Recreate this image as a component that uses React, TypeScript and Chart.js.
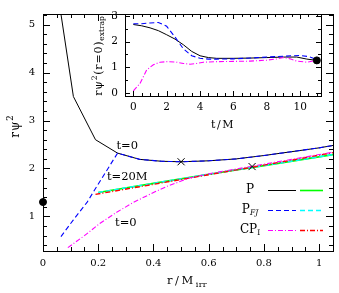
import React, { useEffect, useRef } from 'react';
import { Chart, registerables } from 'chart.js';
Chart.register(...registerables);

const FONT = '"DejaVu Serif", serif';

// ---------- main panel data ----------
const rTicks = [0, 0.2, 0.4, 0.6, 0.8, 1];
const rTickLabels = ['0', '0.2', '0.4', '0.6', '0.8', '1'];
const psiTicks = [1, 2, 3, 4, 5];
const psiTickLabels = ['1', '2', '3', '4', '5'];

// P, t=0 (black solid)
const pT0R = [0.06, 0.11, 0.19, 0.27, 0.35, 0.43, 0.5, 0.6, 0.7, 0.8, 0.9, 1.0, 1.05];
const pT0Psi = [5.41, 3.5, 2.6, 2.32, 2.19, 2.15, 2.14, 2.16, 2.2, 2.27, 2.35, 2.43, 2.48];
// P_FJ, t=0 (blue dashed)
const pfjT0R = [0.065, 0.11, 0.16, 0.207, 0.27, 0.35, 0.43, 0.5, 0.6, 0.7, 0.8, 0.9, 1.0, 1.05];
const pfjT0Psi = [0.58, 0.93, 1.3, 1.74, 2.32, 2.19, 2.15, 2.14, 2.16, 2.2, 2.27, 2.35, 2.43, 2.48];
// CP_I, t=0 (magenta dash-dot)
const cpiT0R = [0.09, 0.15, 0.207, 0.27, 0.33, 0.4, 0.45, 0.53, 0.6, 0.7, 0.8, 0.9, 1.0, 1.05];
const cpiT0Psi = [0.35, 0.6, 0.86, 1.1, 1.3, 1.5, 1.63, 1.8, 1.89, 1.99, 2.09, 2.19, 2.29, 2.34];
// t=20M
const pT20R = [0.2, 0.4, 0.6, 0.8, 1.05];
const pT20Psi = [1.5, 1.69, 1.88, 2.06, 2.29];
const pfjT20R = [0.2, 0.4, 0.6, 0.8, 1.05];
const pfjT20Psi = [1.5, 1.69, 1.88, 2.06, 2.29];
const cpiT20R = [0.19, 0.4, 0.6, 0.8, 1.05];
const cpiT20Psi = [1.46, 1.67, 1.87, 2.07, 2.33];
// markers
const crossR = [0.5, 0.757];
const crossPsi = [2.14, 2.04];
const dotR = [0];
const dotPsi = [1.3];

// annotations
const annoText = ['t=0', 't=20M', 't=0'];
const annoR = [0.305, 0.305, 0.3];
const annoPsi = [2.47, 1.82, 0.86];

// legend
const legendNames = ['P', 'P', 'CP'];
const legendSubs = ['', 'FJ', 'I'];
const legendColA = ['#000000', '#0000ff', '#ff00ff'];
const legendColB = ['#00ff00', '#00ffff', '#ff0000'];
const legendDash: number[][] = [[], [5, 3], [5, 2, 1, 2]];

// ---------- inset data ----------
const tTicks = [0, 2, 4, 6, 8, 10];
const tTickLabels = ['0', '2', '4', '6', '8', '10'];
const insTicks = [0, 1, 2, 3];
const insTickLabels = ['0', '1', '2', '3'];

const insPT = [0, 0.5, 1, 1.5, 2, 2.5, 3, 3.5, 4, 4.5, 5, 6, 7, 8, 9, 9.8, 10.4, 11];
const insPY = [2.67, 2.62, 2.54, 2.43, 2.27, 2.1, 1.88, 1.62, 1.45, 1.38, 1.35, 1.35, 1.36, 1.38, 1.4, 1.4, 1.32, 1.27];
const insFjT = [0, 0.5, 1, 1.5, 2, 2.5, 3, 3.5, 4, 4.5, 5, 6, 7, 8, 9, 9.5, 10, 10.5, 11];
const insFjY = [2.7, 2.7, 2.73, 2.75, 2.6, 2.18, 1.72, 1.45, 1.35, 1.32, 1.32, 1.33, 1.36, 1.4, 1.43, 1.45, 1.46, 1.42, 1.3];
const insCpT = [0, 0.4, 0.8, 1.2, 1.6, 2, 2.6, 3, 3.4, 3.8, 4.2, 5, 6, 7, 8, 8.6, 9, 9.4, 9.8, 10.4, 11];
const insCpY = [0.08, 0.37, 0.9, 1.1, 1.2, 1.22, 1.2, 1.15, 1.12, 1.15, 1.2, 1.22, 1.23, 1.24, 1.28, 1.33, 1.38, 1.33, 1.24, 1.2, 1.27];
const insDotT = [11];
const insDotY = [1.27];

const pts = (xs: number[], ys: number[]) => xs.map((x, i) => ({ x, y: ys[i] }));

type Part = { t: string; size: number; dy?: number; italic?: boolean; sp?: number };

function setFont(ctx: CanvasRenderingContext2D, p: Part, spacing: number) {
  ctx.font = `${p.italic ? 'italic ' : ''}${p.size}px ${FONT}`;
  (ctx as any).letterSpacing = (p.sp !== undefined ? p.sp : spacing) + 'px';
}
function drawRich(ctx: CanvasRenderingContext2D, parts: Part[], x: number, y: number, align: 'left' | 'center', spacing = 0) {
  let w = 0;
  for (const p of parts) { setFont(ctx, p, spacing); w += ctx.measureText(p.t).width; }
  let cx = align === 'center' ? x - w / 2 : x;
  ctx.textAlign = 'left';
  ctx.textBaseline = 'middle';
  ctx.fillStyle = '#000';
  for (const p of parts) {
    setFont(ctx, p, spacing);
    ctx.fillText(p.t, cx, y + (p.dy || 0));
    cx += ctx.measureText(p.t).width;
  }
  (ctx as any).letterSpacing = '0px';
}

const frameTicks = {
  id: 'frameTicks',
  afterDatasetsDraw(chart: any, _a: any, o: any) {
    const { ctx, chartArea: a } = chart;
    const sx = chart.scales.x, sy = chart.scales.y;
    ctx.save();
    ctx.strokeStyle = '#000';
    ctx.lineWidth = 1;
    ctx.beginPath();
    const isMajor = (v: number, m: number) => Math.abs(v / m - Math.round(v / m)) < 1e-6;
    for (let k = Math.ceil(sx.min / o.xMinor - 1e-9); k * o.xMinor <= sx.max + 1e-9; k++) {
      const v = k * o.xMinor;
      const len = isMajor(v, o.xMajor) ? o.majorLen : o.minorLen;
      const px = Math.round(sx.getPixelForValue(v)) + 0.5;
      ctx.moveTo(px, a.bottom); ctx.lineTo(px, a.bottom - len);
      ctx.moveTo(px, a.top); ctx.lineTo(px, a.top + len);
    }
    for (let k = Math.ceil(sy.min / o.yMinor - 1e-9); k * o.yMinor <= sy.max + 1e-9; k++) {
      const v = k * o.yMinor;
      const len = isMajor(v, o.yMajor) ? o.majorLen : o.minorLen;
      const py = Math.round(sy.getPixelForValue(v)) + 0.5;
      ctx.moveTo(a.left, py); ctx.lineTo(a.left + len, py);
      ctx.moveTo(a.right, py); ctx.lineTo(a.right - len, py);
    }
    ctx.stroke();
    ctx.strokeRect(Math.round(a.left) + 0.5, Math.round(a.top) + 0.5, Math.round(a.right - a.left), Math.round(a.bottom - a.top));
    ctx.restore();
  },
};

const mainDecor = {
  id: 'mainDecor',
  afterDraw(chart: any) {
    const { ctx } = chart;
    const sx = chart.scales.x, sy = chart.scales.y;
    ctx.save();
    // annotations
    annoText.forEach((t, i) => {
      drawRich(ctx, [{ t, size: 11.5 }], sx.getPixelForValue(annoR[i]), sy.getPixelForValue(annoPsi[i]), 'center');
    });
    // legend
    const lx = 250, ly0 = 190, dy = 20;
    legendNames.forEach((n, i) => {
      const y = ly0 + i * dy;
      const parts: Part[] = [{ t: n, size: 12 }];
      if (legendSubs[i]) parts.push({ t: legendSubs[i], size: 7.5, dy: 3, italic: legendSubs[i] === 'FJ' });
      drawRich(ctx, parts, lx, y, 'center');
      ctx.lineWidth = i === 0 ? 1 : 1.2;
      ctx.setLineDash(legendDash[i]);
      ctx.strokeStyle = legendColA[i];
      ctx.beginPath(); ctx.moveTo(268, y + 0.5); ctx.lineTo(296, y + 0.5); ctx.stroke();
      ctx.lineWidth = 1.6;
      ctx.strokeStyle = legendColB[i];
      ctx.beginPath(); ctx.moveTo(300, y + 0.5); ctx.lineTo(323, y + 0.5); ctx.stroke();
      ctx.setLineDash([]);
    });
    // axis titles
    drawRich(ctx, [{ t: 'r/M', size: 11.5, sp: 2.5 }, { t: 'irr', size: 8, dy: 4, sp: 0.3 }], 187, 281, 'center');
    ctx.save();
    ctx.translate(16, 126);
    ctx.rotate(-Math.PI / 2);
    drawRich(ctx, [{ t: 'rψ', size: 12 }, { t: '2', size: 8.5, dy: -5 }], 0, 0, 'center', 1);
    ctx.restore();
    ctx.restore();
  },
};

const insetDecor = {
  id: 'insetDecor',
  beforeDatasetsDraw(chart: any) {
    const { ctx, chartArea: a } = chart;
    ctx.save();
    ctx.fillStyle = '#fff';
    ctx.fillRect(a.left, a.top, a.right - a.left, a.bottom - a.top);
    ctx.restore();
  },
  afterDraw(chart: any) {
    const { ctx } = chart;
    ctx.save();
    drawRich(ctx, [{ t: 't/M', size: 11 }], 133, 125, 'center', 1.5);
    ctx.translate(9, 56);
    ctx.rotate(-Math.PI / 2);
    drawRich(ctx, [
      { t: 'rψ', size: 11 }, { t: '2', size: 7.5, dy: -4 },
      { t: '(r=0)', size: 11 }, { t: 'extrap', size: 7.5, dy: 3, sp: 0 },
    ], 0, 0, 'center', 0.8);
    ctx.restore();
  },
};

const lineDs = (label: string, data: any[], color: string, width: number, dash: number[], order: number) => ({
  label, data, borderColor: color, backgroundColor: color, borderWidth: width, borderDash: dash,
  pointRadius: 0, tension: 0, fill: false, order,
});

export default function App() {
  const mainRef = useRef<HTMLCanvasElement>(null);
  const insetRef = useRef<HTMLCanvasElement>(null);

  useEffect(() => {
    const tickFont = { family: FONT, size: 10 };
    const insTickFont = { family: FONT, size: 10.5 };
    const main = new Chart(mainRef.current as HTMLCanvasElement, {
      type: 'line',
      data: {
        datasets: [
          lineDs('P t=0', pts(pT0R, pT0Psi), '#000000', 1, [], 6),
          lineDs('PFJ t=0', pts(pfjT0R, pfjT0Psi), '#0000ff', 1.1, [5, 3], 5),
          lineDs('CPI t=0', pts(cpiT0R, cpiT0Psi), '#ff00ff', 1.1, [5, 2, 1, 2], 1),
          lineDs('P t=20M', pts(pT20R, pT20Psi), '#00ff00', 1.6, [], 4),
          lineDs('PFJ t=20M', pts(pfjT20R, pfjT20Psi), '#00ffff', 1.4, [5, 3], 3),
          lineDs('CPI t=20M', pts(cpiT20R, cpiT20Psi), '#ff0000', 1.4, [5, 2, 1, 2], 2),
          {
            label: 'cross', data: pts(crossR, crossPsi), showLine: false, pointStyle: 'crossRot',
            pointRadius: 5, pointBorderWidth: 1, pointBorderColor: '#000', borderColor: '#000', order: 0,
          },
          {
            label: 'dot', data: pts(dotR, dotPsi), showLine: false, pointRadius: 3.5,
            pointBackgroundColor: '#000', pointBorderColor: '#000', borderColor: '#000', clip: false, order: 0,
          },
        ] as any,
      },
      options: {
        animation: false,
        responsive: false,
        events: [],
        layout: { padding: { top: 4, right: 6, left: 0, bottom: 0 } },
        plugins: { legend: { display: false }, tooltip: { enabled: false }, frameTicks: { xMinor: 0.05, xMajor: 0.2, yMinor: 0.2, yMajor: 1, majorLen: 7, minorLen: 4 } } as any,
        scales: {
          x: {
            type: 'linear', min: 0, max: 1.05,
            grid: { display: false, drawTicks: false }, border: { display: false },
            ticks: { font: tickFont, color: '#000', padding: 6, maxRotation: 0, autoSkip: false, callback: (_v: any, i: number) => rTickLabels[i] },
            afterBuildTicks: (s: any) => { s.ticks = rTicks.map((v) => ({ value: v })); },
            afterFit: (s: any) => { s.height = 42; },
          },
          y: {
            type: 'linear', min: 0.28, max: 5.22,
            grid: { display: false, drawTicks: false }, border: { display: false },
            ticks: { font: tickFont, color: '#000', padding: 8, autoSkip: false, callback: (_v: any, i: number) => psiTickLabels[i] },
            afterBuildTicks: (s: any) => { s.ticks = psiTicks.map((v) => ({ value: v })); },
            afterFit: (s: any) => { s.width = 43; },
          },
        } as any,
      },
      plugins: [frameTicks, mainDecor],
    });

    const inset = new Chart(insetRef.current as HTMLCanvasElement, {
      type: 'line',
      data: {
        datasets: [
          lineDs('P', pts(insPT, insPY), '#000000', 1, [], 3),
          lineDs('PFJ', pts(insFjT, insFjY), '#0000ff', 1.1, [5, 3], 2),
          lineDs('CPI', pts(insCpT, insCpY), '#ff00ff', 1.1, [5, 2, 1, 2], 1),
          {
            label: 'dot', data: pts(insDotT, insDotY), showLine: false, pointRadius: 3.5,
            pointBackgroundColor: '#000', pointBorderColor: '#000', borderColor: '#000', clip: false, order: 0,
          },
        ] as any,
      },
      options: {
        animation: false,
        responsive: false,
        events: [],
        layout: { padding: { top: 14, right: 7, left: 0, bottom: 0 } },
        plugins: { legend: { display: false }, tooltip: { enabled: false }, frameTicks: { xMinor: 0.5, xMajor: 2, yMinor: 0.5, yMajor: 1, majorLen: 5, minorLen: 3 } } as any,
        scales: {
          x: {
            type: 'linear', min: -0.5, max: 11.25,
            grid: { display: false, drawTicks: false }, border: { display: false },
            ticks: { font: insTickFont, color: '#000', padding: 5, maxRotation: 0, autoSkip: false, callback: (_v: any, i: number) => tTickLabels[i] },
            afterBuildTicks: (s: any) => { s.ticks = tTicks.map((v) => ({ value: v })); },
            afterFit: (s: any) => { s.height = 36; },
          },
          y: {
            type: 'linear', min: -0.12, max: 3.08,
            grid: { display: false, drawTicks: false }, border: { display: false },
            ticks: { font: insTickFont, color: '#000', padding: 7, autoSkip: false, callback: (_v: any, i: number) => insTickLabels[i] },
            afterBuildTicks: (s: any) => { s.ticks = insTicks.map((v) => ({ value: v })); },
            afterFit: (s: any) => { s.width = 35; },
          },
        } as any,
      },
      plugins: [frameTicks, insetDecor],
    });

    return () => { main.destroy(); inset.destroy(); };
  }, []);

  return (
    <div style={{ position: 'fixed', left: 0, top: 0, width: 339, height: 293, background: '#fff' }}>
      <canvas ref={mainRef} width={339} height={293} style={{ position: 'absolute', left: 0, top: 0, width: 339, height: 293 }} />
      <canvas ref={insetRef} width={238} height={132} style={{ position: 'absolute', left: 90, top: 0, width: 238, height: 132 }} />
    </div>
  );
}
